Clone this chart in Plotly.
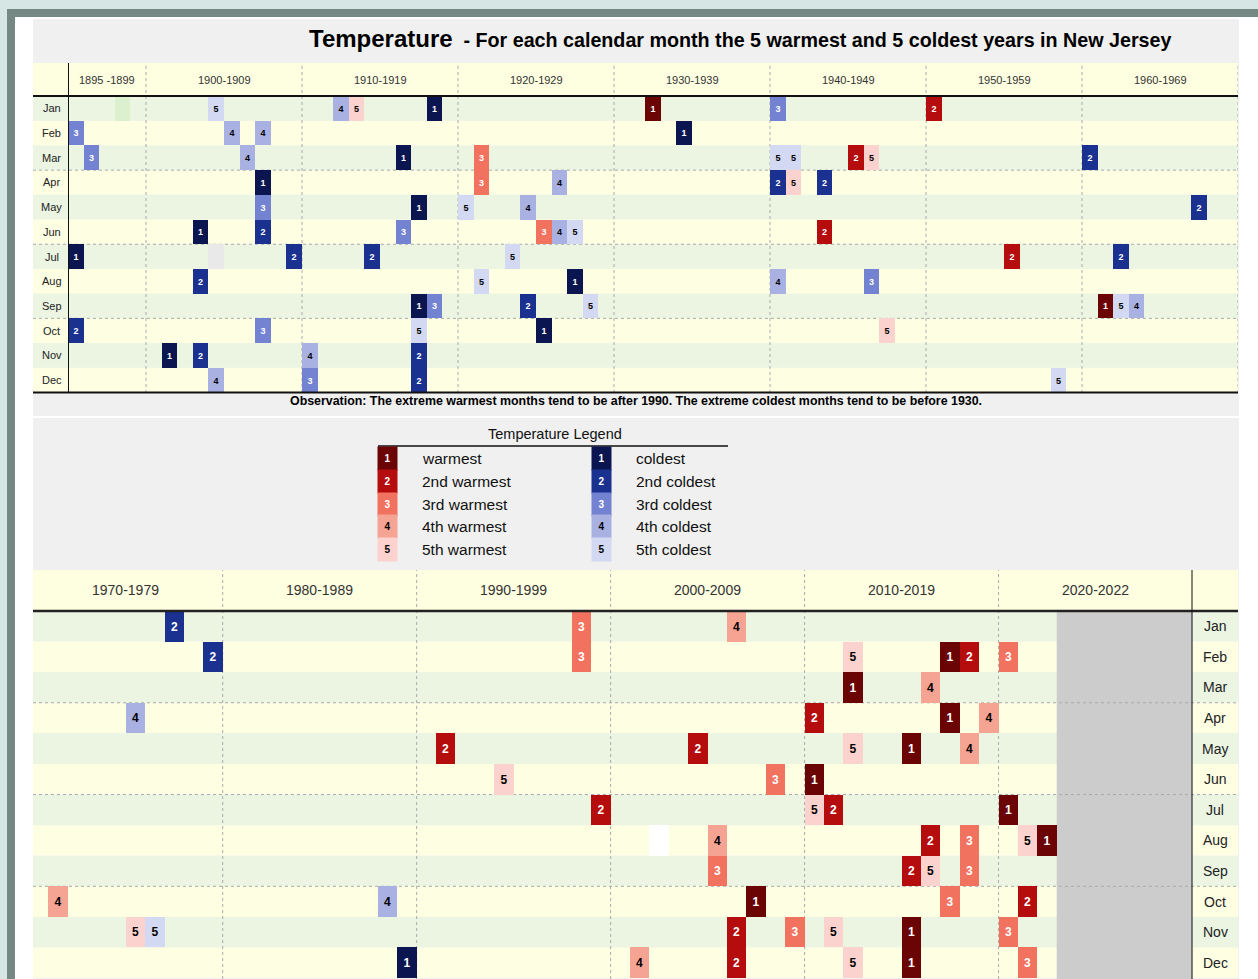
import plotly.graph_objects as go

W, H = 1258, 979
FONT = "Liberation Sans, Arial, sans-serif"

months = ["Jan", "Feb", "Mar", "Apr", "May", "Jun",
          "Jul", "Aug", "Sep", "Oct", "Nov", "Dec"]

# 5 coldest years per month (year, month, rank)
cold_years = [1904, 1912, 1918, 1940, 1977,
              1895, 1905, 1907, 1934, 1979,
              1896, 1906, 1916, 1940, 1941, 1960,
              1907, 1926, 1940, 1943, 1975,
              1907, 1917, 1920, 1924, 1967,
              1903, 1907, 1916, 1926, 1927,
              1895, 1909, 1914, 1923, 1962,
              1903, 1921, 1927, 1940, 1946,
              1917, 1918, 1924, 1928, 1962, 1963,
              1895, 1907, 1917, 1925, 1988,
              1901, 1903, 1910, 1917, 1976,
              1904, 1910, 1917, 1958, 1989]
cold_months = (["Jan"] * 5 + ["Feb"] * 5 + ["Mar"] * 6 + ["Apr"] * 5 + ["May"] * 5
               + ["Jun"] * 5 + ["Jul"] * 5 + ["Aug"] * 5 + ["Sep"] * 6 + ["Oct"] * 5
               + ["Nov"] * 5 + ["Dec"] * 5)
cold_ranks = [5, 4, 1, 3, 2,
              3, 4, 4, 1, 2,
              3, 4, 1, 5, 5, 2,
              1, 4, 2, 2, 4,
              3, 1, 5, 4, 2,
              1, 2, 3, 4, 5,
              1, 2, 2, 5, 2,
              2, 5, 1, 4, 3,
              1, 3, 2, 5, 5, 4,
              2, 3, 5, 1, 4,
              1, 2, 4, 2, 5,
              4, 3, 2, 5, 1]

# 5 warmest years per month
warm_years = [1913, 1932, 1950, 1998, 2006,
              1998, 2012, 2017, 2018, 2020,
              1921, 1945, 1946, 2012, 2016,
              1921, 1941, 2010, 2017, 2019,
              1991, 2004, 2012, 2015, 2018,
              1925, 1943, 1994, 2008, 2010,
              1955, 1999, 2010, 2011, 2020,
              2005, 2016, 2018, 2021, 2022,
              1961, 2005, 2015, 2016, 2018,
              1947, 1971, 2007, 2017, 2021,
              1975, 2006, 2009, 2011, 2015, 2020,
              2001, 2006, 2012, 2015, 2021]
warm_months = (["Jan"] * 5 + ["Feb"] * 5 + ["Mar"] * 5 + ["Apr"] * 5 + ["May"] * 5
               + ["Jun"] * 5 + ["Jul"] * 5 + ["Aug"] * 5 + ["Sep"] * 5 + ["Oct"] * 5
               + ["Nov"] * 6 + ["Dec"] * 5)
warm_ranks = [5, 1, 2, 3, 4,
              3, 5, 1, 2, 3,
              3, 2, 5, 1, 4,
              3, 5, 2, 1, 4,
              2, 2, 5, 1, 4,
              3, 2, 5, 3, 1,
              2, 2, 5, 2, 1,
              4, 2, 3, 5, 1,
              1, 3, 2, 5, 3,
              5, 4, 1, 3, 2,
              5, 2, 3, 5, 1, 3,
              4, 2, 5, 1, 3]

# odd blank cells visible in the source image
blank_years = [1898, 1904, 2002]
blank_months = ["Jan", "Jul", "Aug"]
blank_colors = ["#dcefcf", "#e9e9e9", "#ffffff"]

warm_colors = ["#6b0505", "#b50d0d", "#f1725f", "#f5a393", "#fbd2cd"]
cold_colors = ["#0b1650", "#1b3190", "#7382d1", "#a8b1e2", "#d3d9f2"]
warm_labels = ["warmest", "2nd warmest", "3rd warmest", "4th warmest", "5th warmest"]
cold_labels = ["coldest", "2nd coldest", "3rd coldest", "4th coldest", "5th coldest"]

top_dec_start = [1895, 1900, 1910, 1920, 1930, 1940, 1950, 1960]
top_dec_end = [1900, 1910, 1920, 1930, 1940, 1950, 1960, 1970]
top_dec_labels = ["1895 -1899", "1900-1909", "1910-1919", "1920-1929",
                  "1930-1939", "1940-1949", "1950-1959", "1960-1969"]
bot_dec_start = [1970, 1980, 1990, 2000, 2010, 2020]
bot_dec_end = [1980, 1990, 2000, 2010, 2020, 2030]
bot_dec_labels = ["1970-1979", "1980-1989", "1990-1999", "2000-2009",
                  "2010-2019", "2020-2022"]
last_year = 2022

GREEN, YELLOW = "#ebf5e2", "#fefee3"


def fx(x):
    return x / W


def fy(y):
    return 1 - y / H


fig = go.Figure()

# cells
panels = {"top": dict(x=[], base=[], col=[], txt=[], tcol=[]),
          "bot": dict(x=[], base=[], col=[], txt=[], tcol=[])}


def add_cells(years, mons, ranks, colors):
    for yr, mo, rk in zip(years, mons, ranks):
        p = panels["top" if yr < 1970 else "bot"]
        p["x"].append(yr + 0.5)
        p["base"].append(months.index(mo) - 0.5)
        p["col"].append(colors[rk - 1])
        p["txt"].append(f"<b>{rk}</b>")
        p["tcol"].append("white" if rk <= 3 else "black")


add_cells(cold_years, cold_months, cold_ranks, cold_colors)
add_cells(warm_years, warm_months, warm_ranks, warm_colors)
for yr, mo, c in zip(blank_years, blank_months, blank_colors):
    p = panels["top" if yr < 1970 else "bot"]
    p["x"].append(yr + 0.5)
    p["base"].append(months.index(mo) - 0.5)
    p["col"].append(c)
    p["txt"].append("")
    p["tcol"].append("black")

for key, xa, ya, fs in [("top", "x", "y", 9), ("bot", "x2", "y2", 12)]:
    p = panels[key]
    fig.add_trace(go.Bar(
        x=p["x"], y=[1] * len(p["x"]), base=p["base"], width=1,
        marker=dict(color=p["col"], line=dict(width=0)),
        text=p["txt"], textposition="inside", insidetextanchor="middle",
        textangle=0, textfont=dict(color=p["tcol"], size=fs, family=FONT),
        xaxis=xa, yaxis=ya, showlegend=False, hoverinfo="skip"))

shapes = []


def prect(x0, y0, x1, y1, color):
    shapes.append(dict(type="rect", xref="paper", yref="paper",
                       x0=fx(x0), x1=fx(x1), y0=fy(y1), y1=fy(y0),
                       fillcolor=color, line=dict(width=0), layer="below"))


# frame
prect(7, 9, 1258, 979, "#768884")
prect(15, 17, 1258, 979, "#ffffff")
prect(33, 19, 1239, 979, "#f0f0f0")
prect(33, 416, 1239, 418, "#ffffff")
prect(33, 63, 1238, 96, "#fefee0")
prect(33, 570, 1238, 611, "#fefee0")

# row stripes
for ya in ["y", "y2"]:
    for i in range(12):
        shapes.append(dict(type="rect", xref="paper", yref=ya,
                           x0=fx(33), x1=fx(1238), y0=i - 0.5, y1=i + 0.5,
                           fillcolor=GREEN if i % 2 == 0 else YELLOW,
                           line=dict(width=0), layer="below"))

# years with no data yet
shapes.append(dict(type="rect", xref="x2", yref="paper",
                   x0=last_year + 1, x1=bot_dec_end[-1], y0=0, y1=fy(611),
                   fillcolor="#cccccc", line=dict(width=0), layer="below"))

# dotted grid
DOT = dict(color="#aaaaaa", width=1, dash="dot")
for ya in ["y", "y2"]:
    for b in [2.5, 5.5, 8.5]:
        shapes.append(dict(type="line", xref="paper", yref=ya,
                           x0=fx(33), x1=fx(1238), y0=b, y1=b, line=DOT, layer="below"))
for d in top_dec_end:
    shapes.append(dict(type="line", xref="x", yref="paper", x0=d, x1=d,
                       y0=fy(393), y1=fy(63), line=DOT, layer="below"))
for d in bot_dec_start[1:]:
    shapes.append(dict(type="line", xref="x2", yref="paper", x0=d, x1=d,
                       y0=0, y1=fy(570), line=DOT, layer="below"))

# solid black rules
BLK = dict(color="#111111", width=2)
shapes.append(dict(type="line", xref="paper", yref="paper", x0=fx(33), x1=fx(1238),
                   y0=fy(96), y1=fy(96), line=BLK, layer="above"))
shapes.append(dict(type="line", xref="paper", yref="paper", x0=fx(33), x1=fx(1238),
                   y0=fy(392.5), y1=fy(392.5), line=BLK, layer="above"))
shapes.append(dict(type="line", xref="x", yref="paper", x0=top_dec_start[0], x1=top_dec_start[0],
                   y0=fy(393), y1=fy(63), line=BLK, layer="above"))
shapes.append(dict(type="line", xref="paper", yref="paper", x0=fx(33), x1=fx(1238),
                   y0=fy(611), y1=fy(611), line=dict(color="#222", width=2.5), layer="above"))
shapes.append(dict(type="line", xref="x2", yref="paper", x0=bot_dec_end[-1], x1=bot_dec_end[-1],
                   y0=0, y1=fy(570), line=BLK, layer="above"))
# legend underline
shapes.append(dict(type="line", xref="paper", yref="paper", x0=fx(378), x1=fx(728),
                   y0=fy(446), y1=fy(446), line=dict(color="#111", width=1.5), layer="above"))

ann = []


def note(text, x, y, size, color="#111", xanchor="center", xref="paper", yref="paper", **kw):
    ann.append(dict(text=text, xref=xref, yref=yref, x=x, y=y, xanchor=xanchor,
                    yanchor="middle", showarrow=False,
                    font=dict(size=size, color=color, family=FONT), **kw))


# title
note("<b>Temperature</b>", fx(455), fy(38), 24, "#000", xanchor="right")
note("<b> - For each calendar month the 5 warmest and 5 coldest years in New Jersey</b>",
     fx(456), fy(40), 19.7, "#000", xanchor="left")
note("<b>Observation: The extreme warmest months tend to be after 1990. "
     "The extreme coldest months tend to be before 1930.</b>", fx(636), fy(401), 12.4, "#000")

# decade headers
for s, e, lab in zip(top_dec_start, top_dec_end, top_dec_labels):
    note(lab, (s + e) / 2, fy(80), 11, "#333", xref="x")
for s, e, lab in zip(bot_dec_start, bot_dec_end, bot_dec_labels):
    note(lab, (s + e) / 2, fy(590), 14, "#333", xref="x2")

# month labels
for i, m in enumerate(months):
    note(m, fx(52), i, 11, "#222", yref="y")
    note(m, fx(1215), i, 14, "#222", yref="y2")

# legend
note("Temperature Legend", fx(555), fy(434), 14.5)
for k in range(5):
    yc = fy(458.5 + k * 22.8)
    for cx, lx, cols, labs in [(387.5, 420, warm_colors, warm_labels),
                               (601.5, 634, cold_colors, cold_labels)]:
        note(f"<b>{k + 1}</b>", fx(cx), yc, 10, "white" if k < 3 else "black",
             bgcolor=cols[k], width=19, height=23, borderpad=0)
        note(labs[k], fx(lx), yc, 15.5, "#111", xanchor="left")

hidden = dict(showgrid=False, zeroline=False, showticklabels=False, showline=False, ticks="")
fig.update_layout(
    width=W, height=H, margin=dict(l=0, r=0, t=0, b=0),
    paper_bgcolor="#d5e6e5", plot_bgcolor="rgba(0,0,0,0)",
    barmode="overlay", bargap=0,
    font=dict(family=FONT),
    xaxis=dict(domain=[fx(68), fx(1238)], range=[1895, 1970], anchor="y", **hidden),
    yaxis=dict(domain=[fy(392.5), fy(96)], range=[11.5, -0.5], anchor="x", **hidden),
    xaxis2=dict(domain=[fx(33), fx(1192.5)], range=[1970.22, 2030], anchor="y2", **hidden),
    yaxis2=dict(domain=[0, fy(611)], range=[11.53, -0.5], anchor="x2", **hidden),
    shapes=shapes, annotations=ann,
)

fig.write_html("out.html", config={"displayModeBar": False},
               post_script="document.body.style.margin='0';document.body.style.overflow='hidden';")
